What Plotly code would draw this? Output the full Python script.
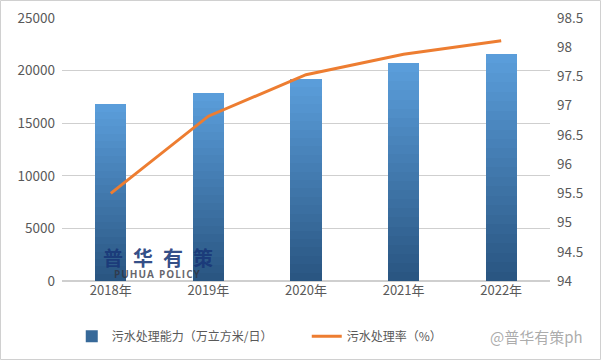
import plotly.graph_objects as go

years = ["2018年", "2019年", "2020年", "2021年", "2022年"]
capacity = [16800, 17900, 19200, 20700, 21600]   # 污水处理能力（万立方米/日）
rate = [95.5, 96.82, 97.53, 97.88, 98.11]          # 污水处理率（%）

N = 24
top = (90, 157, 218)
bot = (42, 86, 130)

fig = go.Figure()
for i in range(N):
    t = i / (N - 1)
    c = tuple(round(bot[k] + (top[k] - bot[k]) * t) for k in range(3))
    fig.add_trace(go.Bar(
        x=years, y=[v / N for v in capacity],
        marker=dict(color="rgb(%d,%d,%d)" % c, line=dict(width=0)),
        width=0.32,
        name="污水处理能力（万立方米/日）",
        showlegend=(i == 6), legendgroup="cap", legendrank=1,
        hoverinfo="skip" if i else None,
    ))

fig.add_trace(go.Scatter(
    x=years, y=rate, yaxis="y2", mode="lines",
    line=dict(color="#ED7D31", width=3),
    name="污水处理率（%）", legendrank=2,
))

font = "Noto Sans CJK SC, Open Sans, sans-serif"
fig.update_layout(
    width=601, height=360,
    margin=dict(l=62, r=51, t=18, b=79, autoexpand=False),
    barmode="stack", bargap=0,
    paper_bgcolor="white", plot_bgcolor="white",
    font=dict(family=font, size=13, color="#595959"),
    xaxis=dict(showgrid=False, showline=False, ticks="", tickfont=dict(size=13)),
    yaxis=dict(range=[0, 25000], dtick=5000, tickformat="d", gridcolor="#cfcfcf", gridwidth=1,
               zeroline=True, zerolinecolor="#cfcfcf", showline=False, ticks="",
               ticksuffix="  ", tickfont=dict(size=13.5)),
    yaxis2=dict(range=[94, 98.5], dtick=0.5, overlaying="y", side="right",
                showgrid=False, zeroline=False, showline=False, ticks="",
                tickprefix="  ", tickfont=dict(size=13.5)),
    legend=dict(orientation="h", x=0.02, xanchor="left", y=-0.21, yanchor="middle",
                font=dict(size=12, color="#595959"), traceorder="normal",
                entrywidth=190, itemwidth=30),
    showlegend=True,
)

fig.add_annotation(text="<b>普\u2002华\u2002有\u2002策</b>", xref="paper", yref="paper", x=0.196, y=0.088,
                   xanchor="center", yanchor="middle", showarrow=False,
                   font=dict(size=20, color="rgba(25,55,120,0.9)", family=font))
fig.add_annotation(text="<b>P\u200aU\u200aH\u200aU\u200aA\u2002P\u200aO\u200aL\u200aI\u200aC\u200aY</b>",
                   xref="paper", yref="paper", x=0.196, y=0.026,
                   xanchor="center", yanchor="middle", showarrow=False,
                   font=dict(size=10, color="rgba(50,50,60,0.75)", family="Open Sans"))
fig.add_annotation(text="@普华有策ph", xref="paper", yref="paper", x=1.072, y=-0.21,
                   xanchor="right", yanchor="middle", showarrow=False,
                   font=dict(size=15, color="rgba(150,150,150,0.8)", family=font))

# outer border of the chart
pw, ph = 601 - 62 - 51, 360 - 18 - 79
fig.add_shape(type="rect", xref="paper", yref="paper",
              x0=-61.5 / pw, x1=1 + 50.5 / pw, y0=-78.5 / ph, y1=1 + 17.5 / ph,
              line=dict(color="#d0d0d0", width=1), layer="below")

fig.write_html("out.html", post_script="document.body.style.margin='0';",
               config={"displayModeBar": False})
